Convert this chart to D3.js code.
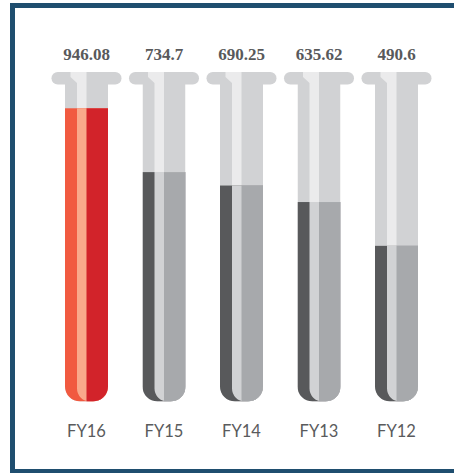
<!DOCTYPE html>
<html lang="en">
<head>
    <meta charset="utf-8">
    <script src="https://cdn.jsdelivr.net/npm/d3@7/dist/d3.min.js"></script>
    <style>
        body { margin: 0; background: #fff; }
    </style>
</head>
<body>
<div id="my_dataviz"></div>
<script>
    // data, left to right
    var years = ["FY16", "FY15", "FY14", "FY13", "FY12"];
    var values = [946.08, 734.7, 690.25, 635.62, 490.6];
    var valueLabels = ["946.08", "734.7", "690.25", "635.62", "490.6"];
    var highlighted = ["FY16"];

    var width = 454, height = 473;

    var svg = d3.select("#my_dataviz")
        .append("svg")
        .attr("width", width)
        .attr("height", height);

    // frame (right side runs off the picture)
    svg.append("rect")
        .attr("x", 12.5)
        .attr("y", 5.5)
        .attr("width", 470)
        .attr("height", 466)
        .attr("fill", "none")
        .attr("stroke", "#1f4e6f")
        .attr("stroke-width", 5);

    // tube centres
    var x = d3.scalePoint()
        .domain(years)
        .range([86.5, 396.5]);

    // liquid level
    var y = d3.scaleLinear()
        .domain([0, 1000])
        .range([394, 92]);

    var tubeTop = 84, tubeBottom = 401.5, hw = 21.5, r = 15;
    var stripeL = -9.5;

    var colours = {
        hi: {dark: "#f15a40", light: "#f9a98b", main: "#d2232a"},
        lo: {dark: "#58595b", light: "#d1d2d4", main: "#a7a9ac"}
    };

    function tubePath(cx) {
        return "M" + (cx - hw) + "," + tubeTop +
            "L" + (cx + hw) + "," + tubeTop +
            "L" + (cx + hw) + "," + (tubeBottom - r) +
            "A" + r + "," + r + " 0 0 1 " + (cx + hw - r) + "," + tubeBottom +
            "L" + (cx - hw + r) + "," + tubeBottom +
            "A" + r + "," + r + " 0 0 1 " + (cx - hw) + "," + (tubeBottom - r) + "Z";
    }

    // inner part of the liquid, offset right so a dark crescent shows on the left
    function innerPath(cx, top) {
        var l = cx + stripeL, ir = 13;
        return "M" + l + "," + top +
            "L" + (cx + hw) + "," + top +
            "L" + (cx + hw) + "," + tubeBottom +
            "L" + (l + ir) + "," + tubeBottom +
            "A" + ir + "," + ir + " 0 0 1 " + l + "," + (tubeBottom - ir) + "Z";
    }

    var data = years.map(function (d, i) {
        return {year: d, value: values[i], label: valueLabels[i]};
    });

    var defs = svg.append("defs");
    data.forEach(function (d, i) {
        defs.append("clipPath")
            .attr("id", "tube" + i)
            .append("path")
            .attr("d", tubePath(x(d.year)));
    });

    var tube = svg.selectAll(".tube")
        .data(data)
        .enter()
        .append("g")
        .attr("class", "tube");

    // cap
    tube.append("rect")
        .attr("x", function (d) { return x(d.year) - 35; })
        .attr("y", 72)
        .attr("width", 70)
        .attr("height", 12.5)
        .attr("rx", 6.25)
        .attr("fill", "#d1d2d4");

    tube.append("path")
        .attr("d", function (d) {
            var cx = x(d.year);
            return "M" + (cx - 16) + ",72 L" + cx + ",72 L" + cx + ",85 L" + (cx + stripeL) + ",85 L" +
                (cx + stripeL) + ",83 L" + (cx - 16) + ",77 Z";
        })
        .attr("fill", "#ebebec");

    var body = tube.append("g")
        .attr("clip-path", function (d, i) { return "url(#tube" + i + ")"; });

    // empty glass
    body.append("rect")
        .attr("x", function (d) { return x(d.year) - hw; })
        .attr("y", tubeTop)
        .attr("width", hw * 2)
        .attr("height", tubeBottom - tubeTop)
        .attr("fill", "#d1d2d4");

    body.append("rect")
        .attr("x", function (d) { return x(d.year) + stripeL; })
        .attr("y", tubeTop)
        .attr("width", -stripeL)
        .attr("height", tubeBottom - tubeTop)
        .attr("fill", "#ebebec");

    // liquid
    function col(d) {
        return highlighted.indexOf(d.year) >= 0 ? colours.hi : colours.lo;
    }

    body.append("rect")
        .attr("x", function (d) { return x(d.year) - hw; })
        .attr("y", function (d) { return y(d.value); })
        .attr("width", hw * 2)
        .attr("height", function (d) { return tubeBottom - y(d.value); })
        .attr("fill", function (d) { return col(d).dark; });

    body.append("path")
        .attr("d", function (d) { return innerPath(x(d.year), y(d.value)); })
        .attr("fill", function (d) { return col(d).light; });

    body.append("rect")
        .attr("x", function (d) { return x(d.year); })
        .attr("y", function (d) { return y(d.value); })
        .attr("width", hw)
        .attr("height", function (d) { return tubeBottom - y(d.value); })
        .attr("fill", function (d) { return col(d).main; });

    // value labels
    tube.append("text")
        .attr("x", function (d) { return x(d.year); })
        .attr("y", 60)
        .attr("text-anchor", "middle")
        .style("font-family", "'Liberation Serif', 'Times New Roman', serif")
        .style("font-weight", "bold")
        .style("font-size", "17px")
        .style("fill", "#58595b")
        .text(function (d) { return d.label; });

    // year labels
    tube.append("text")
        .attr("x", function (d) { return x(d.year); })
        .attr("y", 437)
        .attr("text-anchor", "middle")
        .style("font-family", "Lato, 'Open Sans', sans-serif")
        .style("font-size", "16.5px")
        .style("fill", "#5a5b5d")
        .text(function (d) { return d.year; });
</script>
</body>
</html>
